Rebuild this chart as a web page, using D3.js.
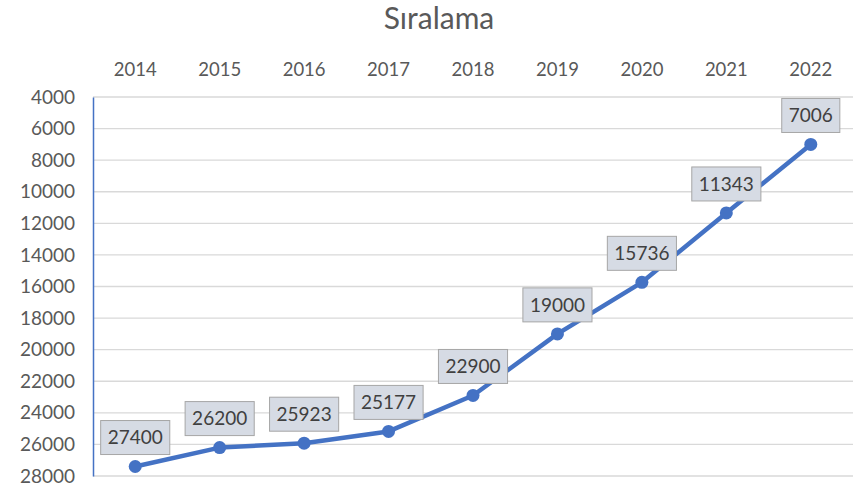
<!DOCTYPE html>
<html>
<head>
<meta charset="utf-8">
<script src="https://cdn.jsdelivr.net/npm/d3@7"></script>
<style>
  body { margin: 0; background: #fff; }
  text { font-family: Lato, "Open Sans", sans-serif; }
</style>
</head>
<body>
<div id="chart"></div>
<script>
// chart data
const years = ["2014", "2015", "2016", "2017", "2018", "2019", "2020", "2021", "2022"];
const ranks = [27400, 26200, 25923, 25177, 22900, 19000, 15736, 11343, 7006];
const yTicks = [4000, 6000, 8000, 10000, 12000, 14000, 16000, 18000, 20000, 22000, 24000, 26000, 28000];

const width = 863, height = 489;
const margin = {top: 97, right: 10, bottom: 13, left: 93};

const svg = d3.select("#chart").append("svg")
    .attr("width", width)
    .attr("height", height);

const x = d3.scaleBand()
    .domain(years)
    .range([margin.left, width - margin.right]);

// reversed axis: smaller rank at top
const y = d3.scaleLinear()
    .domain([4000, 28000])
    .range([margin.top, height - margin.bottom]);

// title
svg.append("text")
    .attr("x", 439)
    .attr("y", 29)
    .attr("text-anchor", "middle")
    .attr("fill", "#595959")
    .style("font-size", "30px")
    .text("Sıralama");

// gridlines
svg.append("g")
    .selectAll("line")
    .data(yTicks)
    .join("line")
    .attr("x1", margin.left)
    .attr("x2", width - margin.right)
    .attr("y1", d => y(d))
    .attr("y2", d => y(d))
    .attr("stroke", "#d9d9d9")
    .attr("stroke-width", 1.3);

// y axis
const yAxis = svg.append("g")
    .attr("transform", `translate(${margin.left},0)`)
    .call(d3.axisLeft(y).tickValues(yTicks).tickSize(0).tickPadding(18).tickFormat(d3.format("d")));
yAxis.select(".domain").attr("stroke", "#4472c4").attr("stroke-width", 1.5);
yAxis.selectAll("text")
    .attr("fill", "#595959")
    .style("font-size", "19px");

// x axis on top
const xAxis = svg.append("g")
    .attr("transform", `translate(0,${margin.top - 21})`)
    .call(d3.axisTop(x).tickSize(0).tickPadding(0));
xAxis.select(".domain").remove();
xAxis.selectAll("text")
    .attr("fill", "#595959")
    .style("font-size", "18.5px");

const data = years.map((yr, i) => ({year: yr, value: ranks[i]}));
const cx = d => x(d.year) + x.bandwidth() / 2;

const line = d3.line()
    .x(cx)
    .y(d => y(d.value));

svg.append("path")
    .datum(data)
    .attr("d", line)
    .attr("fill", "none")
    .attr("stroke", "#4472c4")
    .attr("stroke-width", 4.5)
    .attr("stroke-linejoin", "round");

svg.append("g")
    .selectAll("circle")
    .data(data)
    .join("circle")
    .attr("cx", cx)
    .attr("cy", d => y(d.value))
    .attr("r", 6.5)
    .attr("fill", "#4472c4");

// data labels
const labels = svg.append("g")
    .selectAll("g")
    .data(data)
    .join("g")
    .attr("transform", d => `translate(${cx(d)},${y(d.value) - 29})`);

labels.append("text")
    .attr("text-anchor", "middle")
    .attr("dy", "0.35em")
    .attr("fill", "#404040")
    .style("font-size", "19px")
    .text(d => d.value);

labels.each(function() {
    const g = d3.select(this);
    const bb = g.select("text").node().getBBox();
    g.insert("rect", "text")
        .attr("x", bb.x - 7)
        .attr("y", -17)
        .attr("width", bb.width + 14)
        .attr("height", 34)
        .attr("fill", "#d6dbe4")
        .attr("stroke", "#a6a6a6")
        .attr("stroke-width", 1);
});
</script>
</body>
</html>
